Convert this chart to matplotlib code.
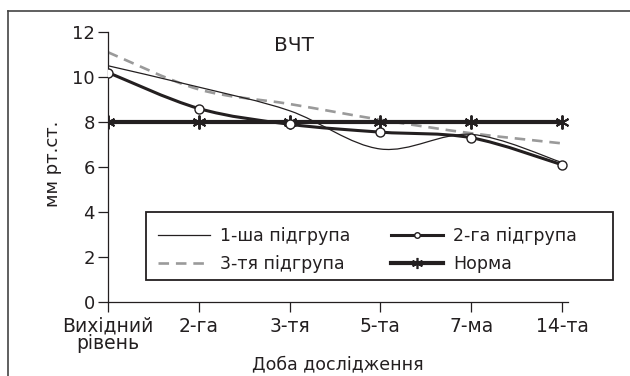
"""ВЧТ by study day: three subgroups against the norm line."""

import matplotlib

matplotlib.use("Agg")
import matplotlib.pyplot as plt
import numpy as np
from matplotlib.lines import Line2D
from matplotlib.patches import PathPatch, Rectangle
from matplotlib.path import Path

plt.rcParams["font.family"] = ["DejaVu Sans"]

DAYS = ["Вихідний\nрівень", "2-га", "3-тя", "5-та", "7-ма", "14-та"]
GROUP_1 = [10.5, 9.55, 8.5, 6.8, 7.45, 6.2]
GROUP_2 = [10.2, 8.6, 7.9, 7.55, 7.3, 6.1]
GROUP_3 = [11.1, 9.45, 8.8, 8.1, 7.5, 7.05]
NORM = [8, 8, 8, 8, 8, 8]

LABELS = ["1-ша підгрупа", "2-га підгрупа", "3-тя підгрупа", "Норма"]
INK = "#231f20"
W, H = 630, 376


def smooth_path(xs, ys):
    """Catmull-Rom style Bezier path through the points (like Excel smoothing)."""
    pts = np.column_stack([xs, ys]).astype(float)
    n = len(pts)
    verts = [pts[0]]
    codes = [Path.MOVETO]
    for i in range(n - 1):
        p0 = pts[max(i - 1, 0)]
        p1 = pts[i]
        p2 = pts[i + 1]
        p3 = pts[min(i + 2, n - 1)]
        c1 = p1 + (p2 - p0) / 6.0
        c2 = p2 - (p3 - p1) / 6.0
        verts += [c1, c2, p2]
        codes += [Path.CURVE4] * 3
    return Path(verts, codes)


fig = plt.figure(figsize=(W / 100, H / 100), dpi=100)
ax = fig.add_axes([108 / W, 74 / H, 460 / W, 270 / H])
x = np.arange(len(DAYS))

# outer frame (top + left only, as in the source)
fig.add_artist(Line2D([8 / W, 1.0], [1 - 11 / H] * 2, color="#444444", lw=1.2))
fig.add_artist(Line2D([8 / W] * 2, [0, 1 - 11 / H], color="#444444", lw=1.2))

ax.add_patch(PathPatch(smooth_path(x, GROUP_3), fill=False, ec="#9a9a9a",
                       lw=1.9, ls=(0, (4, 2.6)), zorder=2))
ax.add_patch(PathPatch(smooth_path(x, GROUP_1), fill=False, ec=INK,
                       lw=0.9, zorder=3))
ax.plot(x, NORM, color=INK, lw=3.0, marker=(6, 2, 0), ms=10, mew=1.4,
        zorder=4)
ax.add_patch(PathPatch(smooth_path(x, GROUP_2), fill=False, ec=INK,
                       lw=2.2, zorder=5))
ax.plot(x, GROUP_2, ls="none", marker="o", ms=6.5, mfc="white", mec=INK,
        mew=1.0, zorder=6)

ax.set_xlim(0, 5.066)
ax.set_ylim(0, 12)
ax.set_xticks(x)
ax.set_xticklabels(DAYS, fontsize=13.5, linespacing=0.9)
ax.set_yticks(range(0, 13, 2))
ax.tick_params(axis="y", labelsize=13, direction="out", length=7.5,
               width=0.9, color=INK, labelcolor=INK, pad=2)
ax.tick_params(axis="x", direction="out", length=7.5, width=0.9, color=INK,
               labelcolor=INK, pad=3)
for side in ("top", "right"):
    ax.spines[side].set_visible(False)
for side in ("left", "bottom"):
    ax.spines[side].set_linewidth(0.9)
    ax.spines[side].set_color(INK)
ax.patch.set_alpha(0)

ax.text(2.05, 11.42, "ВЧТ", fontsize=14.5, ha="center", va="center", color=INK)
fig.text(338 / W, 1 - 364 / H, "Доба дослідження", fontsize=12.5,
         ha="center", va="center", color=INK)
fig.text(53 / W, 1 - 164 / H, "мм рт.ст.", fontsize=13, rotation=90,
         ha="center", va="center", color=INK)

# legend box drawn separately so the entries can sit where the source has them
fig.add_artist(Rectangle((146 / W, 1 - 280 / H), 467 / W, 68 / H,
                         transform=fig.transFigure, fill=True, fc="white",
                         ec=INK, lw=1.3, zorder=3))
handles = [
    Line2D([], [], color=INK, lw=0.9),
    Line2D([], [], color="#9a9a9a", lw=1.9, ls=(0, (4, 2.6))),
    Line2D([], [], color=INK, lw=2.2, marker="o", ms=4, mfc="white", mec=INK),
    Line2D([], [], color=INK, lw=3.0, marker=(6, 2, 0), ms=8, mew=1.2),
]
leg = fig.legend(
    handles,
    [LABELS[0], LABELS[2], LABELS[1], LABELS[3]],
    ncol=2,
    loc="upper left",
    bbox_to_anchor=(158 / W, 1 - 227 / H),
    fontsize=12.5,
    frameon=False,
    handlelength=3.0,
    handletextpad=0.6,
    columnspacing=2.3,
    labelspacing=0.6,
    borderpad=0,
    borderaxespad=0,
)
leg.set_zorder(4)
for t in leg.get_texts():
    t.set_color(INK)

fig.savefig("out.png", dpi=100)
